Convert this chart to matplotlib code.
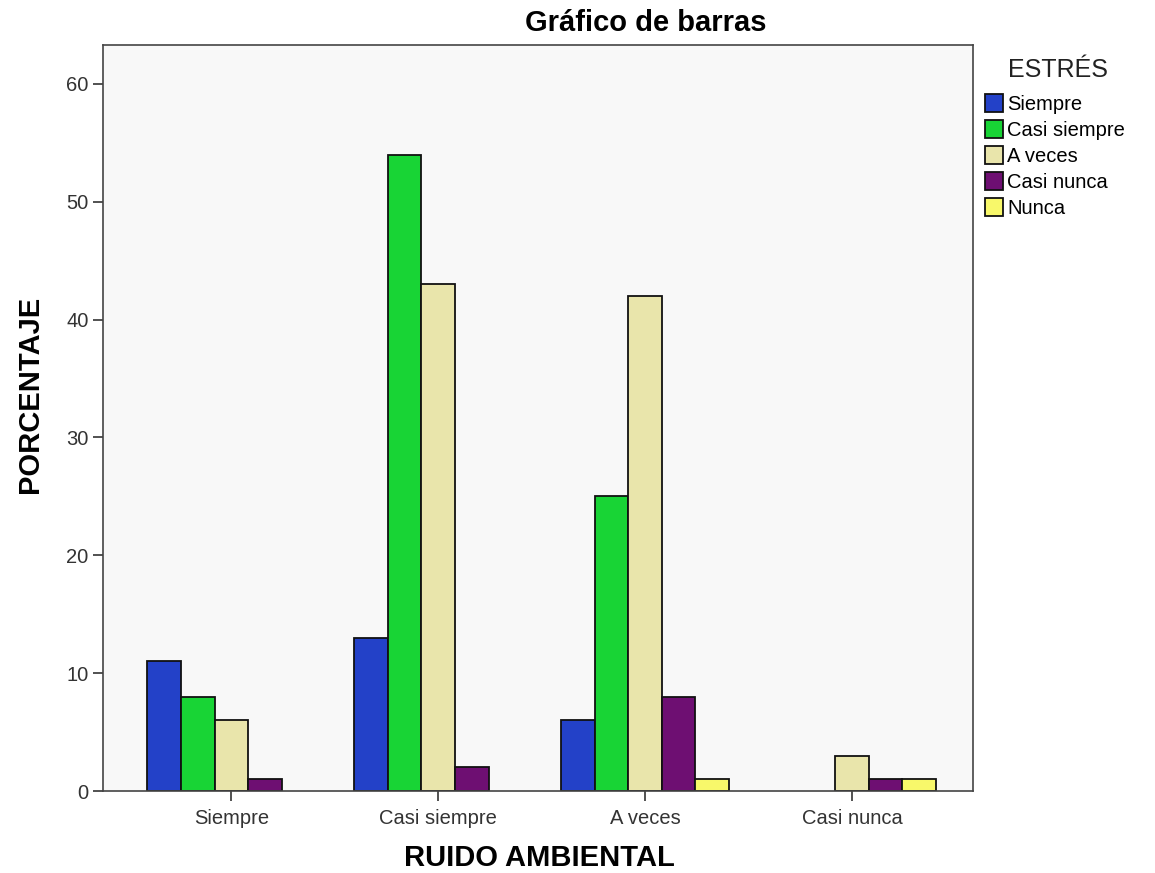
import numpy as np
import matplotlib.pyplot as plt
from matplotlib.patches import Patch

plt.rcParams['font.family'] = ['Liberation Sans', 'DejaVu Sans']

# datos (porcentaje)
categorias = ['Siempre', 'Casi siempre', 'A veces', 'Casi nunca']
series = ['Siempre', 'Casi siempre', 'A veces', 'Casi nunca', 'Nunca']
siempre = [11, 13, 6, 0]
casi_siempre = [8, 54, 25, 0]
a_veces = [6, 43, 42, 3]
casi_nunca = [1, 2, 8, 1]
nunca = [0, 0, 1, 1]
valores = [siempre, casi_siempre, a_veces, casi_nunca, nunca]
colores = ['#2341c8', '#18d435', '#e9e5ab', '#6e0f72', '#f8f86a']

fig = plt.figure(figsize=(11.55, 8.73), dpi=100)
ax = fig.add_axes([0.0892, 0.0939, 0.7532, 0.8546])
ax.set_facecolor('#f8f8f8')

x = np.arange(len(categorias))
w = 0.1623
for i, (vals, col) in enumerate(zip(valores, colores)):
    v = np.array(vals, dtype=float)
    m = v > 0
    ax.bar(x[m] + (i - 2) * w, v[m], width=w, color=col, edgecolor='#111111', linewidth=1.3)

ax.set_xlim(-0.62, 3.585)
ax.set_ylim(0, 63.3)
ax.set_yticks(range(0, 61, 10))
ax.set_xticks(x)
ax.set_xticklabels(categorias)
ax.tick_params(axis='both', labelsize=14.5, colors='#333333', length=7, width=1.2)
ax.tick_params(axis='x', pad=6)
for s in ax.spines.values():
    s.set_color('#444444')
    s.set_linewidth(1.2)

fig.text(0.467, 1 - 858 / 873, 'RUIDO AMBIENTAL', fontsize=21, fontweight='bold', ha='center', va='center')
fig.text(0.026, 0.548, 'PORCENTAJE', fontsize=21, fontweight='bold', rotation=90, ha='center', va='center')
fig.text(0.559, 0.974, 'Gráfico de barras', fontsize=21, fontweight='bold', ha='center', va='center')

# leyenda
fig.text(1008 / 1155, 1 - 70 / 873, 'ESTRÉS', fontsize=18, ha='left', va='center', color='#222222')
handles = [Patch(facecolor=c, edgecolor='#111111', linewidth=1.3) for c in colores]
fig.legend(handles, series, loc='upper left', bbox_to_anchor=(985 / 1155, 1 - 94 / 873), frameon=False,
           fontsize=14.5, handlelength=0.9, handleheight=1.0,
           handletextpad=0.2, labelspacing=0.3, borderaxespad=0, borderpad=0)

fig.savefig('out.png', dpi=100)
